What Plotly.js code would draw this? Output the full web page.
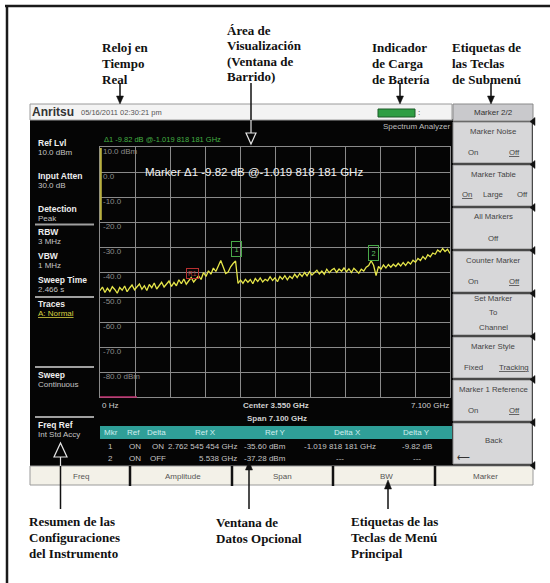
<!DOCTYPE html>
<html><head><meta charset="utf-8">
<script src="https://cdn.plot.ly/plotly-3.0.1.min.js"></script>
<style>html,body{margin:0;padding:0;background:#fff;}#chart{width:550px;height:583px;}</style>
</head><body><div id="chart"></div>
<script>
// ---------------- DATA ----------------
const sweepStartGHz = 0;
const sweepStepGHz = 0.05;
const traceLevelsDbm = [
 -47.5,-46.0,-48.2,-46.5,-47.8,-45.9,-47.0,-48.5,-46.2,-47.3,
 -45.6,-47.9,-46.4,-45.2,-47.1,-46.0,-44.8,-46.9,-45.5,-47.4,
 -45.0,-46.3,-44.4,-46.8,-45.3,-44.1,-46.0,-44.9,-43.6,-45.8,
 -44.2,-45.5,-43.1,-44.7,-42.8,-44.9,-43.4,-42.2,-44.0,-42.6,
 -41.5,-43.0,-40.2,-41.8,-39.5,-40.9,-38.4,-39.8,-37.6,-35.4,
 -38.0,-40.6,-40.0,-37.9,-36.6,-35.6,-44.6,-43.2,-44.5,-42.9,
 -44.1,-43.0,-44.7,-42.6,-43.8,-42.4,-44.0,-42.9,-43.5,-41.9,
 -43.4,-42.3,-43.9,-41.8,-42.9,-41.5,-43.1,-41.7,-42.6,-40.9,
 -42.2,-40.6,-41.8,-40.2,-41.5,-39.9,-41.2,-40.1,-39.3,-40.8,
 -39.6,-40.9,-38.9,-40.3,-39.2,-38.6,-40.1,-38.8,-39.7,-38.4,
 -39.9,-38.7,-40.2,-38.5,-39.4,-40.5,-38.9,-39.6,-38.1,-37.4,
 -35.5,-37.3,-41.4,-37.8,-38.9,-37.2,-38.4,-37.0,-38.1,-36.9,
 -37.8,-36.5,-37.6,-36.2,-37.4,-36.0,-36.8,-35.3,-36.1,-34.6,
 -35.4,-33.8,-34.9,-33.1,-33.9,-32.4,-32.9,-31.2,-32.0,-30.6,
 -31.8,-30.9,-32.6
];
const xGridGHz = [0,0.71,1.42,2.13,2.84,3.55,4.26,4.97,5.68,6.39,7.1];
const yGridDbm = [10,0,-10,-20,-30,-40,-50,-60,-70,-80,-90];
const yTickLabels = ['10.0 dBm','0.0','-10.0','-20.0','-30.0','-40.0','-50.0','-60.0','-70.0','-80.0 dBm'];
const markerIds = ['1','2'];
const markerFreqGHz = [2.762545454, 5.538];
const markerLevelDbm = [-35.60, -37.28];
const refMarkerId = ['R1'];
const refMarkerFreqGHz = [1.742727273];
const refMarkerLevelDbm = [-43.0];
const activeMarkerText = 'Δ1 -9.82 dB @-1.019 818 181 GHz';
const freqStartLabel = '0 Hz';
const freqCenterLabel = 'Center 3.550 GHz';
const freqStopLabel = '7.100 GHz';
const freqSpanLabel = 'Span 7.100 GHz';
const settingsLabels = ['Ref Lvl','Input Atten','Detection','RBW','VBW','Sweep Time','Traces','Sweep','Freq Ref'];
const settingsValues = ['10.0 dBm','30.0 dB','Peak','3 MHz','1 MHz','2.466 s','A: Normal','Continuous','Int Std Accy'];
const menuKeys = ['Freq','Amplitude','Span','BW','Marker'];
const submenuTitle = 'Marker 2/2';
const submenuKeys = ['Marker Noise','Marker Table','All Markers','Counter Marker','Set Marker','Marker Style','Marker 1 Reference','Back'];
const submenuOptions = [['On','Off'],['On','Large','Off'],['Off'],['On','Off'],['To','Channel'],['Fixed','Tracking'],['On','Off'],[]];
const submenuSelected = [1,0,-1,1,-1,1,1,-1];
const tableHeader = ['Mkr','Ref','Delta','Ref X','Ref Y','Delta X','Delta Y'];
const tableRow1 = ['1','ON','ON','2.762 545 454 GHz','-35.60 dBm','-1.019 818 181 GHz','-9.82 dB'];
const tableRow2 = ['2','ON','OFF','5.538 GHz','-37.28 dBm','---','---'];
const brandText = 'Anritsu';
const clockText = '05/16/2011 02:30:21 pm';
const modeText = 'Spectrum Analyzer';
const calloutsTop = [
  ['Reloj en','Tiempo','Real'],
  ['Área de','Visualización','(Ventana de','Barrido)'],
  ['Indicador','de Carga','de Batería'],
  ['Etiquetas de','las Teclas','de Submenú']
];
const calloutsBottom = [
  ['Resumen de las','Configuraciones','del Instrumento'],
  ['Ventana de','Datos Opcional'],
  ['Etiquetas de las','Teclas de Menú','Principal']
];

// ---------------- HELPERS ----------------
const W = 550, H = 583;
const px = x => x / W;
const py = y => 1 - y / H;
const shapes = [];
const ann = [];
function rect(x0,y0,x1,y1,fill,lineColor,lw,layer){
  shapes.push({type:'rect',xref:'paper',yref:'paper',x0:px(x0),x1:px(x1),y0:py(y1),y1:py(y0),
    fillcolor:fill,line:{color:lineColor||'rgba(0,0,0,0)',width:lw||0},layer:layer||'below'});
}
function seg(x0,y0,x1,y1,color,w,layer){
  shapes.push({type:'line',xref:'paper',yref:'paper',x0:px(x0),x1:px(x1),y0:py(y0),y1:py(y1),
    line:{color:color,width:w},layer:layer||'above'});
}
function tri(pts,fill,lineColor,lw){
  const d = pts.map((p,i)=>(i?'L':'M')+px(p[0]).toFixed(5)+','+py(p[1]).toFixed(5)).join(' ')+' Z';
  shapes.push({type:'path',xref:'paper',yref:'paper',path:d,fillcolor:fill,
    line:{color:lineColor||fill,width:lw||0.5},layer:'above'});
}
function T(x,y,text,size,color,xanchor,opts){
  const o = Object.assign({family:'Liberation Sans',weight:'normal'}, opts||{});
  ann.push({xref:'paper',yref:'paper',x:px(x),y:py(y),text:text,showarrow:false,
    xanchor:xanchor||'center',yanchor:'middle',align:xanchor||'center',borderpad:0,
    font:{family:o.family,size:size,color:color,weight:o.weight}});
}

// ---------------- FRAME ----------------
seg(7,5,7,583,'#1a1a1a',2.5,'below');
seg(5,6,550,6,'#1a1a1a',2.5,'below');

// screen background
rect(30,119,533,466,'#050505');
// header bar
rect(30,104,452,120,'#f3f3f3','#9a9a9a',1);
T(31,112.5,brandText,12,'#333333','left',{weight:'bold'});
T(80,113,clockText,7.5,'#555555','left');
rect(378,109,415,117,'#2f9e44','#1c5a28',1);
T(417,113,':',8,'#333','left');
// submenu title
rect(453,104,533,121,'#c9c9cc','#8a8a8a',1);
T(493,112.5,submenuTitle,8,'#333333');
T(451,126,modeText,8,'#bdbdbd','right');
T(103,139,activeMarkerText,7.5,'#44b044','left');

// ---------------- LEFT SETTINGS PANEL ----------------
const setY = [143,176,209,232,256,280,304.5,375,425];
settingsLabels.forEach((lab,i)=>{
  T(37,setY[i],lab,8.5,'#eeeeee','left',{weight:'bold'});
  const isTrace = lab === 'Traces';
  T(37,setY[i]+9.5,isTrace?'<u>'+settingsValues[i]+'</u>':settingsValues[i],8,isTrace?'#d8d040':'#c4c4c4','left');
});
[224.5,297,367,417].forEach(y=>seg(35,y,94,y,'#a0a0a0',2,'below'));

// ---------------- PLOT AREA LABELS ----------------
yTickLabels.forEach((lab,i)=>{
  ann.push({xref:'x',yref:'y',x:xGridGHz[0],y:yGridDbm[i],text:lab,showarrow:false,
    xanchor:'left',yanchor:'top',xshift:2,yshift:1,borderpad:0,
    font:{family:'Liberation Sans',size:8,color:'#8c8c8c'}});
});
T(254,172,'Marker '+activeMarkerText,11.5,'#f2f2f2');
markerIds.forEach((m,i)=>{
  ann.push({xref:'x',yref:'y',x:markerFreqGHz[i],y:markerLevelDbm[i],text:m,showarrow:false,
    xanchor:'center',yanchor:'bottom',yshift:4,borderpad:2.5,bordercolor:'#48a848',borderwidth:1,
    font:{family:'Liberation Sans',size:7.5,color:'#60c060'}});
});
ann.push({xref:'x',yref:'y',x:refMarkerFreqGHz[0],y:refMarkerLevelDbm[0],text:refMarkerId[0],showarrow:false,
  xanchor:'left',yanchor:'bottom',yshift:1,borderpad:1,bordercolor:'#b83030',borderwidth:1,
  font:{family:'Liberation Sans',size:6.5,color:'#c04040'}});
seg(100.8,148,100.8,220,'#b8b040',2,'above');
seg(100,397,137,397,'#c03070',1.5,'above');

T(101,405,freqStartLabel,8,'#d0d0d0','left');
T(276,405,freqCenterLabel,8,'#d0d0d0','center',{weight:'bold'});
T(277,418,freqSpanLabel,8,'#d0d0d0','center',{weight:'bold'});
T(450,405,freqStopLabel,8,'#d0d0d0','right');

// ---------------- MARKER TABLE ----------------
rect(100,426,452,439,'#2f9f98');
const hdrX = [111,133,156,205,275,347,416];
tableHeader.forEach((h,i)=>T(hdrX[i],432.5,h,8,'#cfeeee','center'));
const colX = [110,135,158,238,287,340,417];
const colA = ['center','center','center','right','right','center','center'];
[tableRow1,tableRow2].forEach((row,r)=>{
  row.forEach((v,i)=>T(colX[i],446+r*12,v,8,'#c4c4c4',colA[i]));
});

// ---------------- MAIN MENU BAR ----------------
rect(30,466,533,485,'#f3f1e8','#9a9a9a',1);
[130,232,333,435].forEach(x=>seg(x,466,x,486,'#111111',2.5,'above'));
const menuX = [81,183,282,386,485];
menuKeys.forEach((k,i)=>T(menuX[i],476,k,8,'#555555'));

// ---------------- SUBMENU BUTTONS ----------------
submenuKeys.forEach((k,i)=>{
  const top = 122 + 43*i, bot = top + 41;
  rect(453,top,532,bot,'#d7d7d9','#8e8e8e',1);
  const opts = submenuOptions[i];
  const fs = 7.8;
  if (k === 'Set Marker'){
    T(493,top+5,k,fs,'#444');
    T(493,top+18,opts[0],fs,'#444');
    T(493,top+33,opts[1],fs,'#444');
  } else if (k === 'Back'){
    T(493,top+17,k,fs,'#444');
    T(456,top+34,'⟵',9,'#333','left');
  } else {
    T(493,top+9,k,fs,'#444');
    const xs = opts.length===1?[493]:opts.length===2?[473,514]:[467,493,522];
    opts.forEach((o,j)=>T(xs[j],top+30,j===submenuSelected[i]?'<u>'+o+'</u>':o,fs,'#444'));
  }
});
for (let i=0;i<=8;i++){
  const y = 121.5 + 43*i;
  tri([[535,y-4],[535,y+4],[530,y]],'#111');
}

// ---------------- CALLOUTS ----------------
const serif = {family:'Liberation Serif',weight:'bold'};
const topX = [101,226,371,451];
const topY0 = [48,30,48,48];
calloutsTop.forEach((lines,b)=>lines.forEach((l,j)=>T(topX[b],topY0[b]+15.5*j,l,13,'#111','left',serif)));
const botX = [28,215,350];
const botY0 = [521,522,521];
calloutsBottom.forEach((lines,b)=>lines.forEach((l,j)=>T(botX[b],botY0[b]+16*j,l,13,'#111','left',serif)));

// top arrows (down)
[120,400,491].forEach(x=>{
  seg(x,83,x,97,'#111',1.5,'above');
  tri([[x-3.5,96],[x+3.5,96],[x,104]],'#111');
});
// display-area pointer
seg(251,83,251,120,'#111',1.5,'above');
seg(251,120,251,133,'#e0e0e0',1.2,'above');
tri([[246,133],[256,133],[251,144]],'rgba(0,0,0,0)','#e6e6e6',1.2);
// settings summary pointer
seg(60.5,466,60.5,509,'#111',1.5,'above');
seg(60.5,457,60.5,466,'#e0e0e0',1.2,'above');
tri([[54,457],[67,457],[60.5,443]],'rgba(0,0,0,0)','#e6e6e6',1.2);
// data window pointer
seg(249,470,249,509,'#111',1.5,'above');
tri([[245.5,470],[252.5,470],[249,461]],'#111');
// main menu pointer
seg(388,489,388,509,'#111',1.5,'above');
tri([[384.5,489],[391.5,489],[388,480]],'#111');

// ---------------- PLOT ----------------
const data = [{
  type:'scatter', mode:'lines', x0:sweepStartGHz, dx:sweepStepGHz, y:traceLevelsDbm,
  line:{color:'#e6e64a',width:1.3}, hoverinfo:'skip'
}];
const layout = {
  width:W, height:H, margin:{l:0,r:0,t:0,b:0,pad:0},
  paper_bgcolor:'#ffffff', plot_bgcolor:'rgba(0,0,0,0)', showlegend:false,
  font:{family:'Liberation Sans'},
  xaxis:{domain:[px(100),px(450)], range:[0,7.1], tickmode:'array', tickvals:xGridGHz,
    showticklabels:false, ticks:'', showgrid:true, gridcolor:'#8a8a8a', gridwidth:1,
    zeroline:false, showline:true, linecolor:'#8a8a8a', linewidth:1, mirror:true, fixedrange:true},
  yaxis:{domain:[py(397),py(147)], range:[-90,10], tickmode:'array', tickvals:yGridDbm,
    showticklabels:false, ticks:'', showgrid:true, gridcolor:'#8a8a8a', gridwidth:1,
    zeroline:false, showline:true, linecolor:'#8a8a8a', linewidth:1, mirror:true, fixedrange:true},
  shapes:shapes, annotations:ann
};
Plotly.newPlot('chart', data, layout, {staticPlot:true, displayModeBar:false});
</script>
</body></html>
